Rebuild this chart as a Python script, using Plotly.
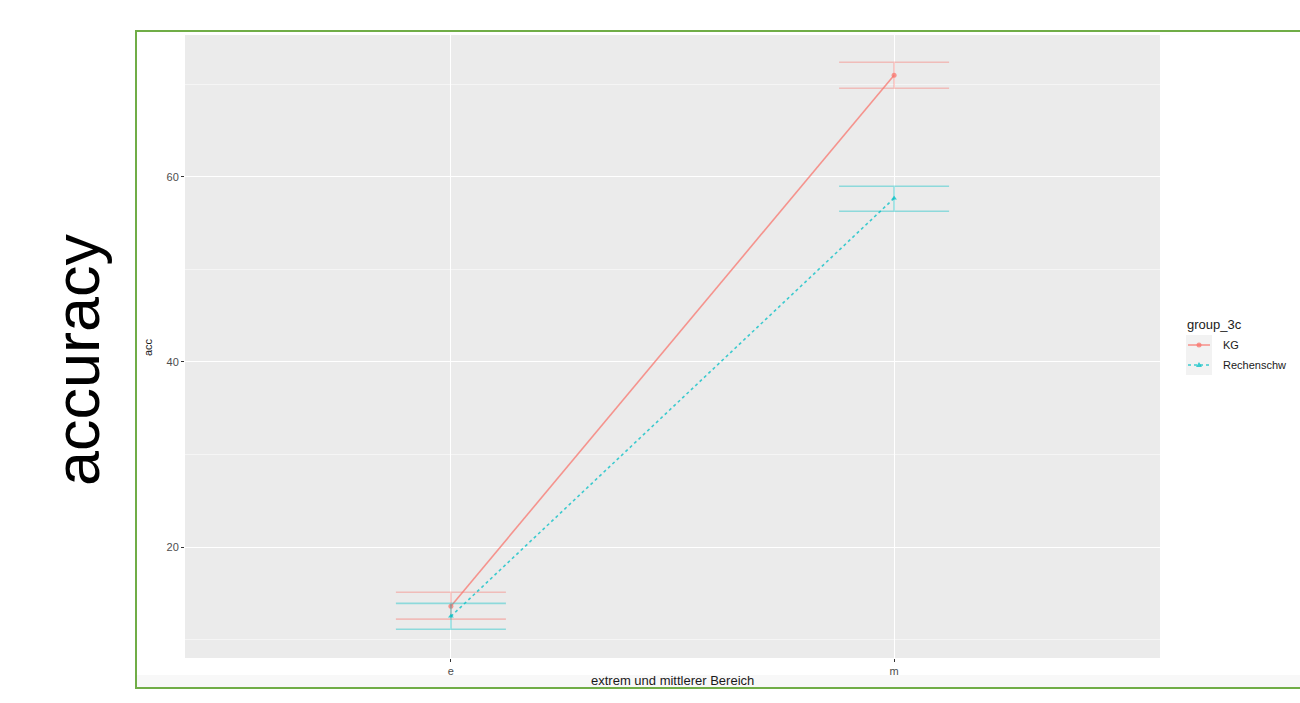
import plotly.graph_objects as go

# ---- data ----
categories = ["e", "m"]
groups = ["KG", "Rechenschw"]  # legend label as visible in the reference
kg_acc = [13.6, 71.0]
kg_upper = [15.1, 72.4]
kg_lower = [12.2, 69.6]
rs_acc = [12.5, 57.7]
rs_upper = [13.9, 59.0]
rs_lower = [11.1, 56.3]
y_ticks = [20, 40, 60]

W, H = 1300, 703
L, R, T, B = 185, 1160, 35, 658

def px_x(p):
    return (p - L) / (R - L)

def px_y(p):
    return (B - p) / (B - T)

KG_COL = "rgba(248,118,109,0.75)"
KG_ERR = "rgba(248,118,109,0.40)"
RS_COL = "rgba(0,191,196,0.75)"
RS_ERR = "rgba(0,191,196,0.40)"

fig = go.Figure()

def add_series(name, vals, up, lo, col, errcol, dash, symbol):
    fig.add_trace(go.Scatter(
        x=categories, y=vals, name=name, mode="lines+markers",
        line=dict(color=col, width=1.6, dash=dash),
        marker=dict(color=col, size=5, symbol=symbol),
        error_y=dict(type="data", symmetric=False,
                     array=[u - v for u, v in zip(up, vals)],
                     arrayminus=[v - l for v, l in zip(vals, lo)],
                     color=errcol, thickness=1.6, width=55),
        showlegend=False,
    ))

add_series(groups[0], kg_acc, kg_upper, kg_lower, KG_COL, KG_ERR, "solid", "circle")
add_series(groups[1], rs_acc, rs_upper, rs_lower, RS_COL, RS_ERR, "dot", "triangle-up")

shapes = [
    dict(type="rect", xref="paper", yref="paper",
         x0=px_x(137), x1=px_x(1320), y0=px_y(687), y1=px_y(675),
         fillcolor="#F8F8F8", line=dict(width=0), layer="below"),
    dict(type="rect", xref="paper", yref="paper",
         x0=px_x(136), x1=px_x(1320), y0=px_y(688), y1=px_y(31),
         line=dict(color="#70AD47", width=2), fillcolor="rgba(0,0,0,0)"),
    # manual legend key background
    dict(type="rect", xref="paper", yref="paper",
         x0=px_x(1186), x1=px_x(1212), y0=px_y(375), y1=px_y(335),
         fillcolor="#F2F2F2", line=dict(width=0)),
    dict(type="line", xref="paper", yref="paper",
         x0=px_x(1188), x1=px_x(1210), y0=px_y(345), y1=px_y(345),
         line=dict(color=KG_COL, width=1.6)),
    dict(type="line", xref="paper", yref="paper",
         x0=px_x(1188), x1=px_x(1210), y0=px_y(365), y1=px_y(365),
         line=dict(color=RS_COL, width=1.6, dash="dot")),
    dict(type="circle", xref="paper", yref="paper",
         xsizemode="pixel", ysizemode="pixel",
         xanchor=px_x(1199), yanchor=px_y(345),
         x0=-2.5, x1=2.5, y0=-2.5, y1=2.5,
         fillcolor=KG_COL, line=dict(width=0)),
    dict(type="path", xref="paper", yref="paper",
         xsizemode="pixel", ysizemode="pixel",
         xanchor=px_x(1199), yanchor=px_y(365),
         path="M -3,-2 L 3,-2 L 0,3 Z",
         fillcolor=RS_COL, line=dict(width=0)),
]

annotations = [
    dict(text="accuracy", xref="paper", yref="paper",
         x=px_x(77), y=px_y(360), showarrow=False, textangle=-90,
         font=dict(size=63, color="black",
                   family="Liberation Sans, Arial, sans-serif"),
         xanchor="center", yanchor="middle"),
    dict(text="acc", xref="paper", yref="paper",
         x=px_x(148), y=px_y(347), showarrow=False, textangle=-90,
         font=dict(size=11, color="#1a1a1a"),
         xanchor="center", yanchor="middle"),
    dict(text="extrem und mittlerer Bereich", xref="paper", yref="paper",
         x=0.5, y=px_y(680), showarrow=False,
         font=dict(size=13, color="#1a1a1a"),
         xanchor="center", yanchor="middle"),
    dict(text="group_3c", xref="paper", yref="paper",
         x=px_x(1185), y=px_y(324), showarrow=False,
         font=dict(size=13, color="#1a1a1a"),
         xanchor="left", yanchor="middle"),
    dict(text=groups[0], xref="paper", yref="paper",
         x=px_x(1221), y=px_y(345), showarrow=False,
         font=dict(size=11, color="#1a1a1a"),
         xanchor="left", yanchor="middle"),
    dict(text=groups[1], xref="paper", yref="paper",
         x=px_x(1221), y=px_y(365), showarrow=False,
         font=dict(size=11, color="#1a1a1a"),
         xanchor="left", yanchor="middle"),
]

fig.update_layout(
    width=W, height=H,
    margin=dict(l=L, r=W - R, t=T, b=H - B, pad=0),
    paper_bgcolor="white", plot_bgcolor="#EBEBEB",
    font=dict(family="Liberation Sans, Arial, sans-serif", color="#4D4D4D"),
    showlegend=False,
    xaxis=dict(
        type="category", range=[-0.6, 1.6],
        showgrid=True, gridcolor="white", gridwidth=1.2,
        ticks="outside", ticklen=3, tickcolor="#333333",
        tickfont=dict(size=11, color="#4D4D4D"),
        zeroline=False, showline=False,
    ),
    yaxis=dict(
        range=[8.0, 75.35], tickvals=y_ticks,
        showgrid=True, gridcolor="white", gridwidth=1.2,
        minor=dict(tickvals=[10, 30, 50, 70], showgrid=True,
                   gridcolor="#F5F5F5", gridwidth=0.6, ticks=""),
        ticks="outside", ticklen=3, tickcolor="#333333",
        tickfont=dict(size=11, color="#4D4D4D"),
        zeroline=False, showline=False,
    ),
    shapes=shapes,
    annotations=annotations,
)

fig.write_html(
    "out.html",
    config={"displayModeBar": False},
    post_script="document.body.style.margin='0';document.body.style.overflow='hidden';",
)
